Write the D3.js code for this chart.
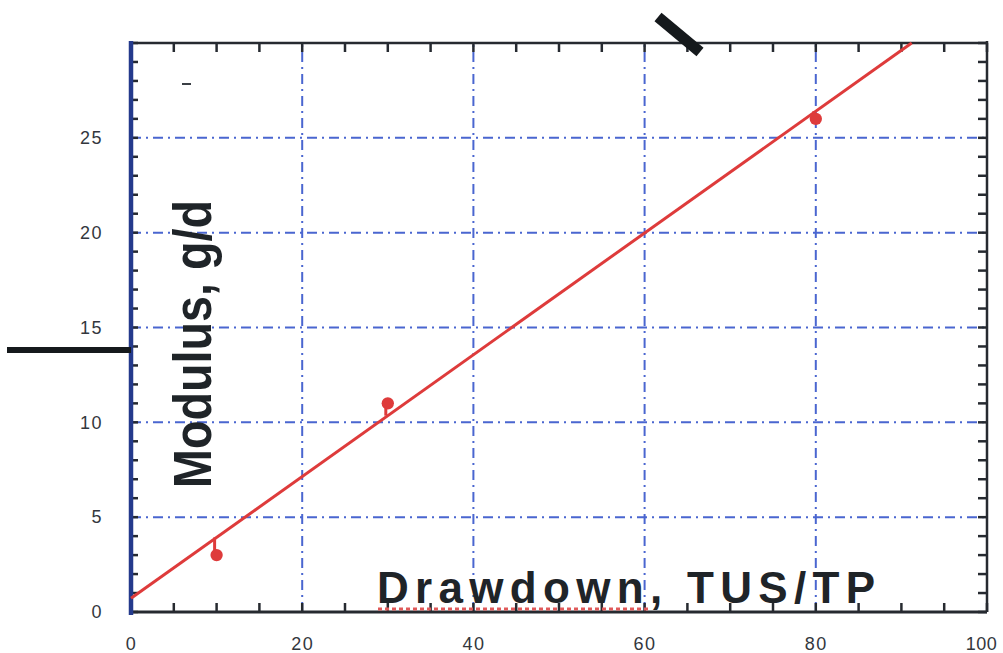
<!DOCTYPE html>
<html>
<head>
<meta charset="utf-8">
<script src="https://cdn.jsdelivr.net/npm/d3@7"></script>
<style>
  html, body { margin: 0; padding: 0; background: #ffffff; }
  svg { display: block; }
</style>
</head>
<body>
<svg id="chart" width="1003" height="653"></svg>
<script>
// Measured samples: drawdown ratio vs. modulus
const drawdown = [10, 30, 80];
const modulus = [3, 11, 26];

// Straight-line fit through the samples (start and end points)
const fitDrawdown = [0, 91.2];
const fitModulus = [0.72, 30];

// Axis tick labels
const xTickLabels = [0, 20, 40, 60, 80, 100];
const yTickLabels = [0, 5, 10, 15, 20, 25];
const xGridValues = [20, 40, 60, 80];
const yGridValues = [5, 10, 15, 20, 25];

const svg = d3.select("#chart");
const plotL = 131, plotR = 987, plotT = 43, plotB = 612;

const x = d3.scaleLinear().domain([0, 100]).range([plotL, plotR]);
const y = d3.scaleLinear().domain([0, 30]).range([plotB, plotT]);

const gridColor = "#4a66d0";
const red = "#de3b3b";
const ink = "#262a30";
const font = "'Liberation Sans', Arial, sans-serif";

// dash-dot grid
const grid = svg.append("g")
  .attr("stroke", gridColor).attr("stroke-width", 2)
  .attr("stroke-dasharray", "10,5,2,5").attr("fill", "none");
grid.selectAll("line.v").data(xGridValues).join("line")
  .attr("class", "v")
  .attr("x1", d => x(d)).attr("x2", d => x(d))
  .attr("y1", y(0)).attr("y2", y(30));
grid.selectAll("line.h").data(yGridValues).join("line")
  .attr("class", "h")
  .attr("x1", x(0)).attr("x2", x(100))
  .attr("y1", d => y(d)).attr("y2", d => y(d));

// minor ticks, pointing inward on all four sides
const xMinor = d3.range(0, 101, 5);
const yMinor = d3.range(0, 31, 1);
const tickLen = 9;

const ticks = svg.append("g").attr("stroke", ink).attr("stroke-width", 2.5);
ticks.selectAll("line.xb").data(xMinor).join("line").attr("class", "xb")
  .attr("x1", d => x(d)).attr("x2", d => x(d))
  .attr("y1", plotB).attr("y2", plotB - tickLen);
ticks.selectAll("line.xt").data(xMinor).join("line").attr("class", "xt")
  .attr("x1", d => x(d)).attr("x2", d => x(d))
  .attr("y1", plotT).attr("y2", plotT + tickLen);
ticks.selectAll("line.yl").data(yMinor).join("line").attr("class", "yl")
  .attr("x1", plotL).attr("x2", plotL + tickLen - 2)
  .attr("y1", d => y(d)).attr("y2", d => y(d));
ticks.selectAll("line.yr").data(yMinor).join("line").attr("class", "yr")
  .attr("x1", plotR).attr("x2", plotR - tickLen)
  .attr("y1", d => y(d)).attr("y2", d => y(d));

// frame
svg.append("line").attr("x1", plotL).attr("x2", plotR).attr("y1", plotT).attr("y2", plotT)
  .attr("stroke", ink).attr("stroke-width", 2.5);
svg.append("line").attr("x1", plotR).attr("x2", plotR).attr("y1", plotT - 2).attr("y2", plotB)
  .attr("stroke", ink).attr("stroke-width", 2.5);
svg.append("line").attr("x1", plotL).attr("x2", plotR).attr("y1", plotB).attr("y2", plotB)
  .attr("stroke", ink).attr("stroke-width", 3);
svg.append("line").attr("x1", plotL).attr("x2", plotL).attr("y1", plotT - 2).attr("y2", plotB + 3)
  .attr("stroke", "#243a8c").attr("stroke-width", 4.5);

// tick labels
const labelAxisX = d3.axisBottom(x).tickValues(xTickLabels).tickSize(0).tickPadding(25);
const gx = svg.append("g").attr("transform", `translate(0,${plotB})`).call(labelAxisX);
gx.select(".domain").remove();
gx.selectAll("text").attr("font-family", font).attr("font-size", 18)
  .attr("fill", "#33373d").attr("letter-spacing", 1.5);
// keep the last label inside the page edge
gx.selectAll(".tick").filter(d => d === 100).select("text")
  .attr("letter-spacing", 0.5).attr("dx", -6);

const labelAxisY = d3.axisLeft(y).tickValues(yTickLabels).tickSize(0).tickPadding(28);
const gy = svg.append("g").attr("transform", `translate(${plotL},0)`).call(labelAxisY);
gy.select(".domain").remove();
gy.selectAll("text").attr("font-family", font).attr("font-size", 18)
  .attr("fill", "#33373d").attr("letter-spacing", 1.5);

// fit line
const fitPts = fitDrawdown.map((d, i) => [d, fitModulus[i]]);
svg.append("path").datum(fitPts)
  .attr("d", d3.line().x(d => x(d[0])).y(d => y(d[1])))
  .attr("stroke", red).attr("stroke-width", 3).attr("fill", "none");

// residual stubs and sample markers
const fitAt = v => fitModulus[0] + (fitModulus[1] - fitModulus[0]) * (v - fitDrawdown[0]) / (fitDrawdown[1] - fitDrawdown[0]);
const samples = drawdown.map((d, i) => ({ d, m: modulus[i] }));
svg.append("g").selectAll("line").data(samples).join("line")
  .attr("x1", s => x(s.d) - 2).attr("x2", s => x(s.d) - 2)
  .attr("y1", s => y(s.m)).attr("y2", s => y(fitAt(s.d)))
  .attr("stroke", red).attr("stroke-width", 3);
svg.append("g").selectAll("path").data(samples).join("path")
  .attr("transform", s => `translate(${x(s.d)},${y(s.m)})`)
  .attr("d", d3.symbol(d3.symbolCircle, 120))
  .attr("fill", red);

// axis titles
svg.append("text")
  .attr("transform", "translate(211,344) rotate(-90)")
  .attr("text-anchor", "middle")
  .attr("font-family", font).attr("font-weight", "bold").attr("font-size", 54)
  .attr("textLength", 288).attr("lengthAdjust", "spacingAndGlyphs")
  .attr("fill", "#1f2428")
  .text("Modulus, g/d");

// dotted red rule under the x title
svg.append("line").attr("x1", 378).attr("x2", 650).attr("y1", 609).attr("y2", 609)
  .attr("stroke", "#e05a5a").attr("stroke-width", 3).attr("stroke-dasharray", "4,3");

svg.append("text")
  .attr("x", 377).attr("y", 603)
  .attr("font-family", font).attr("font-weight", "bold").attr("font-size", 44)
  .attr("textLength", 498).attr("lengthAdjust", "spacing")
  .attr("fill", "#1f2428")
  .text("Drawdown, TUS/TP");

// stray pen strokes
svg.append("line").attr("x1", 658).attr("x2", 700).attr("y1", 17).attr("y2", 52)
  .attr("stroke", "#15191c").attr("stroke-width", 11);
svg.append("line").attr("x1", 7).attr("x2", 131).attr("y1", 350).attr("y2", 350)
  .attr("stroke", "#15191c").attr("stroke-width", 6);
svg.append("line").attr("x1", 182).attr("x2", 191).attr("y1", 84).attr("y2", 84)
  .attr("stroke", "#3a3f45").attr("stroke-width", 2);
</script>
</body>
</html>
